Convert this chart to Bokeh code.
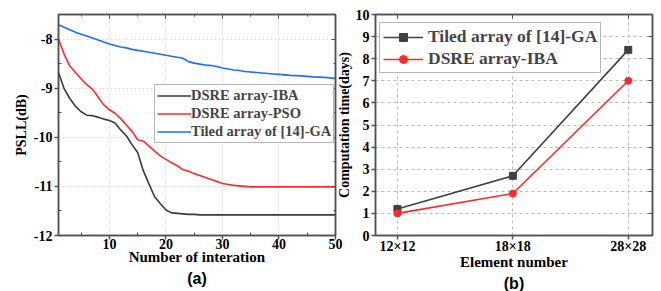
from bokeh.plotting import figure
from bokeh.models import Range1d, LinearAxis, FixedTicker, Legend, LegendItem, Title
from bokeh.layouts import row
from bokeh.embed import file_html
from bokeh.resources import INLINE

SERIF = "Liberation Serif"
SANS = "Liberation Sans"

# ---------------- data (a) ----------------
iterations = list(range(1, 51))
dsre_iba = [-8.68, -9.01, -9.21, -9.37, -9.48, -9.55, -9.56, -9.59, -9.63, -9.66,
            -9.71, -9.85, -9.97, -10.15, -10.31, -10.68, -10.95, -11.21, -11.35, -11.48,
            -11.54, -11.55, -11.56, -11.57, -11.57, -11.58, -11.58, -11.58, -11.58, -11.58,
            -11.58, -11.58, -11.58, -11.58, -11.58, -11.58, -11.58, -11.58, -11.58, -11.58,
            -11.58, -11.58, -11.58, -11.58, -11.58, -11.58, -11.58, -11.58, -11.58, -11.58]
dsre_pso = [-8.00, -8.31, -8.55, -8.68, -8.81, -8.93, -9.02, -9.18, -9.34, -9.44,
            -9.51, -9.62, -9.75, -9.88, -10.05, -10.08, -10.18, -10.28, -10.38, -10.45,
            -10.52, -10.58, -10.66, -10.69, -10.74, -10.78, -10.82, -10.86, -10.90, -10.94,
            -10.96, -10.98, -10.99, -11.00, -11.01, -11.01, -11.01, -11.01, -11.01, -11.01,
            -11.01, -11.01, -11.01, -11.01, -11.01, -11.01, -11.01, -11.01, -11.01, -11.01]
tiled_ga = [-7.71, -7.76, -7.81, -7.86, -7.90, -7.94, -7.98, -8.02, -8.06, -8.10,
            -8.13, -8.16, -8.18, -8.21, -8.23, -8.25, -8.27, -8.29, -8.31, -8.33,
            -8.35, -8.37, -8.39, -8.46, -8.49, -8.51, -8.53, -8.54, -8.56, -8.59,
            -8.61, -8.63, -8.64, -8.66, -8.67, -8.68, -8.69, -8.70, -8.71, -8.72,
            -8.73, -8.74, -8.745, -8.75, -8.76, -8.77, -8.775, -8.78, -8.79, -8.80]
a_xticks = [10, 20, 30, 40, 50]
a_xminor = [5, 15, 25, 35, 45]
a_yticks = [-12, -11, -10, -9, -8]
a_yminor = [-11.5, -10.5, -9.5, -8.5, -7.5]
a_ylabels = {-12: "-12", -11: "-11", -10: "-10", -9: "-9", -8: "-8"}

# ---------------- data (b) ----------------
element_pos = [0, 1, 2]
element_labels = ["12×12", "18×18", "28×28"]
time_ga = [1.2, 2.7, 8.4]
time_iba = [1.0, 1.9, 7.0]
b_yticks = list(range(0, 11))

AXC = "#505050"


def style_axis(ax, size="13px"):
    ax.axis_line_color = AXC
    ax.axis_line_width = 1.5
    ax.major_tick_line_color = AXC
    ax.minor_tick_line_color = AXC
    ax.major_tick_line_width = 1.5
    ax.major_label_text_font = SERIF
    ax.major_label_text_font_style = "bold"
    ax.major_label_text_font_size = size
    ax.major_label_text_color = "black"
    ax.axis_label_text_font = SERIF
    ax.axis_label_text_font_style = "bold"
    ax.axis_label_text_color = "black"


def mirror_axis(ticker):
    ax = LinearAxis(ticker=ticker, major_tick_in=4, major_tick_out=0,
                    minor_tick_in=2, minor_tick_out=0, major_label_standoff=0,
                    major_label_text_font_size="0px", major_label_text_alpha=0)
    ax.axis_line_color = AXC
    ax.axis_line_width = 1.5
    ax.major_tick_line_color = AXC
    ax.minor_tick_line_color = AXC
    return ax


def caption(text):
    return Title(text=text, align="center", standoff=0, offset=0,
                 text_font=SANS, text_font_style="bold", text_font_size="16px",
                 text_color="black")


# ---------------- panel (a) ----------------
p1 = figure(width=343, height=291, x_range=Range1d(1, 50), y_range=Range1d(-12, -7.5),
            output_backend="svg", toolbar_location=None,
            min_border_left=58, min_border_right=8, min_border_top=13, min_border_bottom=54)
p1.outline_line_color = AXC
p1.outline_line_width = 1.5
xt1 = FixedTicker(ticks=a_xticks, minor_ticks=a_xminor)
yt1 = FixedTicker(ticks=a_yticks, minor_ticks=a_yminor)
p1.xaxis.ticker = xt1
p1.yaxis.ticker = yt1
p1.yaxis.major_label_overrides = a_ylabels
for ax in (p1.xaxis[0], p1.yaxis[0]):
    style_axis(ax, "14px")
    ax.major_tick_out = 4
    ax.major_tick_in = 0
    ax.minor_tick_in = 3
    ax.minor_tick_out = 0
    ax.major_label_standoff = 2
    ax.axis_label_standoff = 2
p1.xaxis.axis_label_text_font_size = "15px"
p1.yaxis.axis_label_text_font_size = "14px"
p1.xaxis.major_label_standoff = -1
p1.xaxis.axis_label_standoff = -3
p1.xaxis.axis_label = "Number of interation"
p1.yaxis.axis_label = "PSLL(dB)"
p1.add_layout(mirror_axis(xt1), "above")
p1.add_layout(mirror_axis(yt1), "right")
p1.add_layout(caption("(a)"), "below")
p1.xgrid.ticker = xt1
p1.ygrid.ticker = yt1
for g in (p1.xgrid[0], p1.ygrid[0]):
    g.grid_line_color = "#dcdcdc"
    g.grid_line_dash = "2 2"
    g.grid_line_width = 1

r_iba = p1.line(iterations, dsre_iba, line_color="#3a3a3a", line_width=1.6)
r_pso = p1.line(iterations, dsre_pso, line_color="#ff2a2a", line_width=1.6)
r_ga = p1.line(iterations, tiled_ga, line_color="#1f6ff0", line_width=1.6)

leg1 = Legend(items=[LegendItem(label="DSRE array-IBA", renderers=[r_iba]),
                     LegendItem(label="DSRE array-PSO", renderers=[r_pso]),
                     LegendItem(label="Tiled array of [14]-GA", renderers=[r_ga])],
              location=(96, 92), glyph_width=34, glyph_height=17, label_height=17,
              label_standoff=0, spacing=1, padding=2, margin=0,
              label_text_font=SERIF, label_text_font_style="bold",
              label_text_font_size="14.5px", border_line_color="#707070",
              border_line_width=1, background_fill_alpha=1)
p1.add_layout(leg1, "center")

# ---------------- panel (b) ----------------
p2 = figure(width=328, height=291, x_range=Range1d(-0.19, 2.21), y_range=Range1d(0, 10),
            output_backend="svg", toolbar_location=None,
            min_border_left=40, min_border_right=9, min_border_top=14, min_border_bottom=55)
p2.styles = {"margin-left": "-10px"}
p2.border_fill_color = None
p2.outline_line_color = AXC
p2.outline_line_width = 1.5
xt2 = FixedTicker(ticks=element_pos, minor_ticks=[])
yt2 = FixedTicker(ticks=b_yticks, minor_ticks=[])
p2.xaxis.ticker = xt2
p2.xaxis.major_label_overrides = dict(zip(element_pos, element_labels))
p2.yaxis.ticker = yt2
style_axis(p2.xaxis[0], "14px")
style_axis(p2.yaxis[0], "14px")
for ax in (p2.xaxis[0], p2.yaxis[0]):
    ax.major_tick_out = 4
    ax.major_tick_in = 0
    ax.major_label_standoff = 2
    ax.axis_label_standoff = 1
p2.xaxis.major_label_standoff = -1
p2.xaxis.axis_label_standoff = -3
p2.xaxis.axis_label_text_font_size = "15px"
p2.yaxis.axis_label_text_font_size = "14px"
p2.xaxis.axis_label = "Element number"
p2.yaxis.axis_label = "Computation time(days)"
p2.add_layout(mirror_axis(xt2), "above")
p2.add_layout(mirror_axis(yt2), "right")
p2.add_layout(caption("(b)"), "below")
p2.xgrid.ticker = xt2
p2.ygrid.ticker = yt2
for g in (p2.xgrid[0], p2.ygrid[0]):
    g.grid_line_color = "#b8b8b8"
    g.grid_line_dash = "3 3"
    g.grid_line_width = 1

l_ga = p2.line(element_pos, time_ga, line_color="#404040", line_width=1.6)
m_ga = p2.scatter(element_pos, time_ga, marker="square", size=7, color="#404040")
l_iba = p2.line(element_pos, time_iba, line_color="#ff2a2a", line_width=1.6)
m_iba = p2.scatter(element_pos, time_iba, marker="circle", size=7, color="#ff2a2a")

leg2 = Legend(items=[LegendItem(label="Tiled array of [14]-GA", renderers=[l_ga, m_ga]),
                     LegendItem(label="DSRE array-IBA", renderers=[l_iba, m_iba])],
              location=(4, 162), glyph_width=40, glyph_height=20, label_height=20,
              label_standoff=5, spacing=1, padding=3, margin=0,
              label_text_font=SERIF, label_text_font_style="bold",
              label_text_font_size="17.5px", border_line_color="#707070",
              border_line_width=1, background_fill_alpha=1)
p2.add_layout(leg2, "center")

layout = row(p1, p2)
open("out.html", "w").write(file_html(layout, INLINE))
